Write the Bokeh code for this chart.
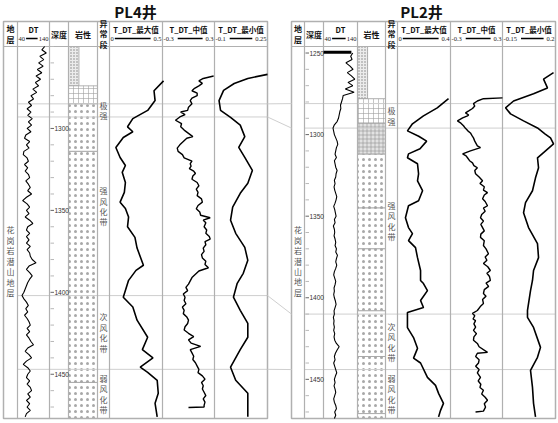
import numpy as np
from bokeh.plotting import figure
from bokeh.models import Range1d
from bokeh.core.properties import value
from bokeh.embed import file_html
from bokeh.resources import INLINE

# ------------------------------------------------------------------ data
well_titles = ["PL4井", "PL2井"]
pl4_names = ["地层", "DT", "深度", "岩性", "异常段", "T_DT_最大值", "T_DT_中值", "T_DT_最小值"]
pl2_names = ["地层", "深度", "DT", "岩性", "异常段", "T_DT_最大值", "T_DT_中值", "T_DT_最小值"]
stratum_name = "花岗岩潜山地层"
zone_names = ["极强", "强风化带", "次风化带", "弱风化带"]

pl4_depth_range = [1250, 1477]
pl2_depth_range = [1246, 1474]
pl4_major_ticks = [1300, 1350, 1400, 1450]
pl2_major_ticks = [1250, 1300, 1350, 1400, 1450]

# curve scales (min, max) per track: DT, 最大值, 中值, 最小值
pl4_scale_min = [40, 0, -0.3, -0.1]
pl4_scale_max = [140, 0.5, 0.3, 0.25]
pl2_scale_min = [40, 0, -0.3, -0.15]
pl2_scale_max = [140, 0.4, 0.3, 0.2]

# DT curves (2 m sampling)
pl4_dt_depth = np.arange(1250, 1477, 2)
pl4_dt = [125, 116, 130, 110, 122, 106, 120, 102, 116, 98,
          112, 96, 106, 88, 100, 82, 90, 74, 84, 70,
          82, 72, 86, 74, 84, 70, 82, 66, 62, 78,
          68, 76, 60, 58, 70, 74, 62, 72, 64, 74,
          78, 66, 74, 80, 72, 84, 68, 56, 70, 78,
          68, 76, 64, 78, 88, 72, 68, 78, 68, 76,
          68, 80, 70, 78, 80, 86, 98, 76, 68, 78,
          86, 78, 72, 68, 64, 60, 54, 60, 68, 74,
          66, 72, 62, 70, 76, 80, 70, 78, 68, 76,
          82, 90, 72, 64, 76, 84, 68, 58, 72, 80,
          72, 68, 78, 70, 80, 84, 72, 80, 68, 78,
          70, 80, 68, 64]
pl2_dt_depth = np.arange(1250, 1475, 2)
pl2_dt = [126, 120, 124, 106, 118, 127, 110, 122, 132, 112,
          126, 104, 130, 98, 96, 93, 90, 91, 88, 86,
          84, 80, 72, 68, 70, 72, 76, 80, 82, 78,
          76, 74, 78, 72, 74, 76, 80, 77, 76, 72,
          74, 71, 73, 76, 79, 77, 74, 70, 73, 75,
          77, 72, 74, 69, 72, 73, 71, 74, 76, 74,
          78, 76, 81, 78, 76, 79, 76, 72, 70, 73,
          76, 74, 71, 72, 70, 72, 75, 77, 74, 71,
          72, 69, 71, 70, 72, 70, 73, 71, 73, 78,
          86, 80, 75, 72, 74, 70, 73, 76, 79, 75,
          72, 74, 71, 74, 76, 73, 70, 72, 76, 78,
          73, 76, 72]
pl2_dt_spike_depth = [1249.5, 1249.5]
pl2_dt_spike = [40, 122]

# T_DT curves, PL4
pl4_max_depth = [1271, 1277, 1283, 1289, 1294, 1299, 1302, 1305.5, 1311.6, 1317.7,
                 1322.6, 1326.8, 1333, 1339, 1345, 1348.8, 1354, 1360, 1366.5, 1373,
                 1383.5, 1386.6, 1392.7, 1403, 1409, 1417, 1427.4, 1435, 1440, 1445.7,
                 1448.8, 1453.7, 1461.6, 1467.7, 1476]
pl4_max = [0.51, 0.42, 0.43, 0.36, 0.22, 0.17, 0.22, 0.13, 0.06, 0.10,
           0.15, 0.12, 0.15, 0.14, 0.10, 0.15, 0.18, 0.17, 0.24, 0.26,
           0.32, 0.25, 0.18, 0.13, 0.22, 0.26, 0.36, 0.31, 0.41, 0.29,
           0.36, 0.45, 0.46, 0.43, 0.45]
pl4_mid_depth = [1268, 1269.5, 1271, 1272.5, 1274, 1275.5, 1277, 1278.5, 1280, 1281.5,
                 1283, 1285, 1287, 1289, 1290, 1291.5, 1293, 1295, 1297, 1299,
                 1301, 1303, 1305, 1306, 1308, 1310, 1312, 1314, 1316, 1318,
                 1320, 1321.5, 1323, 1324.5, 1326, 1327.5, 1329, 1331, 1333, 1335,
                 1337, 1339, 1341, 1343, 1345, 1347, 1349, 1351, 1353, 1354.5,
                 1356, 1357.5, 1360, 1362, 1364, 1366, 1367.5, 1369, 1371, 1373,
                 1375, 1377, 1379, 1381, 1383, 1385, 1387, 1389, 1391, 1393,
                 1395, 1397, 1399, 1401, 1403, 1405, 1407, 1409, 1411, 1413,
                 1415, 1417, 1419, 1421, 1423, 1425, 1427, 1429, 1431, 1433,
                 1435, 1437, 1439, 1441, 1443, 1445, 1447, 1449, 1451, 1453,
                 1455, 1457, 1459, 1461, 1463, 1465, 1467, 1469, 1470, 1470.3]
pl4_mid = [0.29, 0.17, 0.12, 0.16, 0.12, 0.07, 0.04, 0.10, 0.10, 0.04,
           0.02, 0.04, 0.0, -0.01, -0.09, -0.04, -0.10, -0.15, -0.08, -0.09,
           -0.05, 0.0, 0.05, -0.02, -0.06, -0.10, -0.13, -0.12, -0.07, -0.05,
           0.04, 0.02, 0.03, 0.01, 0.06, 0.08, 0.05, 0.04, 0.10, 0.12,
           0.09, 0.11, 0.10, 0.15, 0.16, 0.11, 0.09, 0.13, 0.14, 0.25,
           0.17, 0.20, 0.18, 0.21, 0.20, 0.24, 0.25, 0.19, 0.20, 0.17,
           0.18, 0.15, 0.16, 0.20, 0.19, 0.23, 0.12, 0.08, 0.04, 0.02,
           0.0, -0.03, -0.01, -0.06, -0.04, -0.05, -0.03, -0.07, -0.05, -0.06,
           -0.02, 0.0, -0.01, -0.04, -0.05, 0.0, 0.06, 0.0, 0.03, 0.14,
           0.02, 0.04, 0.06, 0.05, 0.08, 0.10, 0.12, 0.11, 0.16, 0.19,
           0.15, 0.17, 0.16, 0.18, 0.20, 0.17, 0.19, 0.18, 0.18, 0.0]
pl4_min_depth = [1267, 1269.5, 1272.6, 1276.8, 1283, 1289, 1293.3, 1298, 1305, 1311.6,
                 1317.7, 1325.6, 1333.5, 1339.6, 1348, 1356, 1364, 1372.6, 1380.5, 1388.4,
                 1394.5, 1403, 1411, 1419, 1427.4, 1435, 1445.7, 1453.7, 1461.6, 1467.7, 1476]
pl4_min = [0.25, 0.12, 0.03, -0.04, -0.07, -0.06, 0.006, 0.07, 0.10, 0.06,
           0.10, 0.15, 0.12, 0.07, 0.02, 0.006, 0.04, 0.10, 0.12, 0.09,
           0.05, 0.025, 0.07, 0.12, 0.12, 0.07, 0.006, 0.04, 0.12, 0.12, 0.12]

# T_DT curves, PL2
pl2_max_depth = [1278, 1283.6, 1288.5, 1293.4, 1297.7, 1301, 1304, 1308.7, 1311.8, 1314.2,
                 1317.9, 1324, 1328.3, 1334.4, 1340.5, 1343.6, 1351, 1357, 1360.7, 1365,
                 1369.3, 1375.4, 1383.3, 1389.4, 1391.3, 1395.6, 1401.7, 1406, 1409, 1418.3,
                 1424.4, 1431, 1437, 1440, 1448.8, 1453.7, 1458.6, 1464.7, 1469, 1473]
pl2_max = [0.385, 0.30, 0.196, 0.113, 0.075, 0.16, 0.22, 0.17, 0.083, 0.075,
           0.151, 0.159, 0.151, 0.189, 0.159, 0.083, 0.06, 0.083, 0.113, 0.083,
           0.136, 0.151, 0.174, 0.174, 0.196, 0.226, 0.174, 0.196, 0.075, 0.075,
           0.121, 0.151, 0.121, 0.174, 0.226, 0.287, 0.31, 0.347, 0.325, 0.31]
pl2_mid_depth = [1277.5, 1278, 1279.4, 1281, 1282.5, 1284, 1285.5, 1286.7, 1288, 1288.5,
                 1289.8, 1291.6, 1293, 1294.6, 1296, 1297.7, 1299, 1300.8, 1302, 1304,
                 1306.9, 1308, 1310, 1311.8, 1313, 1314.2, 1316, 1317.3, 1319, 1320.3,
                 1322, 1324, 1326, 1328.3, 1330, 1332, 1334, 1335.6, 1337, 1339.3,
                 1341, 1343.6, 1345, 1347, 1349, 1351, 1353, 1355, 1357, 1359,
                 1361, 1363, 1365, 1368, 1370, 1373, 1375, 1377, 1379, 1381,
                 1383.3, 1385, 1387, 1389.4, 1391, 1393, 1395, 1397.4, 1399, 1401,
                 1403.5, 1405, 1407.8, 1409.6, 1411, 1413, 1414, 1416, 1418, 1420,
                 1422, 1424, 1426, 1428, 1430, 1433.5, 1434, 1436, 1438, 1440,
                 1442, 1444, 1446, 1448.8, 1451, 1453, 1455, 1456.7, 1459, 1461,
                 1462.8, 1465, 1467, 1469.5, 1470]
pl2_mid = [0.30, 0.08, 0.01, -0.035, -0.02, -0.046, -0.09, -0.127, -0.09, -0.104,
           -0.16, -0.22, -0.18, -0.15, -0.13, -0.10, -0.07, -0.05, -0.035, -0.02,
           0.01, 0.046, -0.07, -0.16, -0.12, -0.104, -0.08, -0.046, -0.03, 0.01,
           -0.02, -0.011, 0.03, 0.07, 0.04, 0.09, 0.08, 0.127, 0.09, 0.07,
           0.10, 0.127, 0.08, 0.10, 0.06, 0.046, 0.08, 0.05, 0.07, 0.09,
           0.05, 0.046, 0.09, 0.08, 0.11, 0.138, 0.10, 0.12, 0.08, 0.13,
           0.16, 0.12, 0.15, 0.16, 0.11, 0.14, 0.09, 0.08, 0.11, 0.07,
           0.08, 0.05, 0.01, -0.046, -0.02, -0.04, -0.011, -0.03, -0.01, -0.035,
           0.0, -0.03, -0.035, 0.01, 0.03, 0.127, 0.01, -0.01, 0.03, 0.023,
           -0.01, 0.03, 0.01, 0.046, 0.02, 0.05, 0.04, 0.08, 0.06, 0.10,
           0.127, 0.09, 0.104, 0.08, -0.011]
pl2_min_depth = [1262, 1266, 1271.4, 1275, 1279.4, 1283.6, 1287.3, 1291.6, 1295.9, 1299.5,
                 1302, 1305.7, 1311, 1314.2, 1320.3, 1326.5, 1334.4, 1341.7, 1347.9, 1357,
                 1366.8, 1375.4, 1383.3, 1389.4, 1395.6, 1407.8, 1412, 1418.2, 1430.4, 1436.5,
                 1444.5, 1454.9, 1464.7, 1473]
pl2_min = [0.187, 0.121, 0.147, 0.055, -0.077, -0.13, -0.097, -0.011, 0.081, 0.13,
           0.167, 0.187, 0.121, 0.081, 0.088, 0.068, 0.048, 0.002, -0.011, 0.022,
           0.081, 0.088, 0.055, 0.048, 0.035, 0.015, 0.015, 0.055, 0.101, 0.081,
           0.035, 0.048, 0.055, 0.068]

# lithology intervals
pl4_lith_top = [1250, 1274, 1285, 1314, 1455]
pl4_lith_bot = [1274, 1285, 1314, 1455, 1477]
pl4_lith_type = ["fine", "brick", "granite", "granite", "granite"]
pl2_lith_top = [1246, 1278, 1293, 1312, 1345, 1370, 1408, 1436, 1471]
pl2_lith_bot = [1278, 1293, 1312, 1345, 1370, 1408, 1436, 1471, 1474]
pl2_lith_type = ["fine", "brick", "brick_dense", "granite", "granite", "granite",
                 "granite", "granite", "granite"]

# anomaly zone boundaries (tops of 极强, 强风化带, 次风化带, 弱风化带)
pl4_zone_tops = [1285, 1293, 1402, 1447]
pl2_zone_tops = [1281, 1296, 1410, 1444]

# ------------------------------------------------------------------ layout
W, H = 558, 423


def X(xr):
    return float(xr)


def Y(yr):
    return float(yr)


CJK = value("Noto Sans CJK SC")
NUM = value("Liberation Serif")
SANS = value("Liberation Sans")
GRID = "#b0b0b0"

p = figure(width=W, height=H, x_range=Range1d(0, W), y_range=Range1d(H, 0),
           output_backend="svg", toolbar_location=None, min_border=0,
           x_axis_location=None, y_axis_location=None,
           background_fill_color="white", border_fill_color="white")
p.outline_line_color = None
p.grid.visible = False

xranges, yranges = {}, {}

LITH = {
    "fine": dict(fill="#ececec", hatch="dot", scale=3.0, hcolor="#808080", narrow=True),
    "brick": dict(fill="white", hatch="cross", scale=5.0, hcolor="#a0a0a0", narrow=False),
    "brick_dense": dict(fill="#e2e2e2", hatch="cross", scale=4.0, hcolor="#909090", narrow=False),
    "granite": dict(fill="white", hatch="dot", scale=6.0, hcolor="#a8a8a8", narrow=False),
}

HEAD_TOP, HEAD_BOT, BOTTOM = 21, 46, 418
VLH = 0.95  # line height of vertical (stacked) labels


def add_well(key, title, title_x, cols, names, drange, majors, smin, smax,
             curves, lith_top, lith_bot, lith_type, zone_tops):
    d0, d1 = drange
    ly0, ly1 = Y(HEAD_BOT), Y(BOTTOM)
    k = (d1 - d0) / (ly1 - ly0)
    yranges[key] = Range1d(start=d0 + (H - ly0) * k, end=d0 - ly0 * k)

    # title
    p.text(x=[X(title_x)], y=[Y(11)], text=[title], text_font=CJK, text_font_size="15px",
           text_font_style="bold", text_align="center", text_baseline="middle",
           text_color="#111111")

    # lithology
    li = names.index("岩性")
    lx0, lx1 = cols[li], cols[li + 1]
    for t, b, ty in zip(lith_top, lith_bot, lith_type):
        st = LITH[ty]
        right = lx0 + (lx1 - lx0) * 0.36 if st["narrow"] else lx1
        p.quad(left=[X(lx0)], right=[X(right)], top=[t], bottom=[b], y_range_name=key,
               fill_color=st["fill"], hatch_pattern=st["hatch"], hatch_scale=st["scale"],
               hatch_color=st["hcolor"], hatch_weight=0.6, line_color="#a0a0a0", line_width=0.8)

    # zone boundary lines
    p.segment(x0=[X(cols[1])] * len(zone_tops), x1=[X(cols[-1])] * len(zone_tops),
              y0=zone_tops, y1=zone_tops, y_range_name=key, line_color="#cfcfcf", line_width=1)

    # frame and separators
    p.quad(left=[X(cols[0])], right=[X(cols[-1])], top=[Y(HEAD_TOP)], bottom=[Y(BOTTOM)],
           fill_color=None, line_color=GRID, line_width=1.5)
    inner = [X(c) for c in cols[1:-1]]
    p.segment(x0=inner, x1=inner, y0=[Y(HEAD_TOP)] * len(inner), y1=[Y(BOTTOM)] * len(inner),
              line_color=GRID, line_width=1.2)
    p.segment(x0=[X(cols[0])], x1=[X(cols[-1])], y0=[Y(HEAD_BOT)], y1=[Y(HEAD_BOT)],
              line_color=GRID, line_width=1.2)

    # headers
    track_no = 0
    for i, nm in enumerate(names):
        x0, x1 = cols[i], cols[i + 1]
        cx = X((x0 + x1) / 2)
        if nm in ("地层", "异常段"):
            p.text(x=[cx], y=[Y(33.5)], text=["\n".join(nm)], text_font=CJK,
                   text_font_size="8px", text_font_style="bold", text_align="center",
                   text_baseline="middle", text_line_height=VLH, text_color="#111111")
        elif nm in ("深度", "岩性"):
            p.text(x=[cx], y=[Y(33.5)], text=[nm], text_font=CJK, text_font_size="8px",
                   text_font_style="bold", text_align="center", text_baseline="middle",
                   text_color="#111111")
        else:
            p.text(x=[cx], y=[Y(29)], text=[nm], text_font=CJK, text_font_size="7.5px",
                   text_font_style="bold", text_align="center", text_baseline="middle",
                   text_color="#111111")
            lo, hi = f"{smin[track_no]:g}", f"{smax[track_no]:g}"
            p.text(x=[X(x0 + 1)], y=[Y(38)], text=[lo], text_font=NUM, text_font_size="6.5px",
                   text_align="left", text_baseline="middle", text_color="#222222")
            p.text(x=[X(x1 - 1)], y=[Y(38)], text=[hi], text_font=NUM, text_font_size="6.5px",
                   text_align="right", text_baseline="middle", text_color="#222222")
            s0 = X(x0 + 2 + 3.3 * len(lo))
            s1 = X(x1 - 2 - 3.3 * len(hi))
            p.segment(x0=[s0], x1=[s1], y0=[Y(38)], y1=[Y(38)], line_color="black", line_width=1.4)
            # track range
            lx_a, lx_b = X(x0), X(x1)
            kk = (smax[track_no] - smin[track_no]) / (lx_b - lx_a)
            rname = f"{key}_t{track_no}"
            xranges[rname] = Range1d(start=smin[track_no] - lx_a * kk,
                                     end=smin[track_no] + (W - lx_a) * kk)
            for (dep, vals, lw) in curves[track_no]:
                p.line(x=list(vals), y=list(dep), x_range_name=rname, y_range_name=key,
                       line_color="black", line_width=lw)
            track_no += 1

    # depth ticks
    di = names.index("深度")
    dl = cols[di]
    minors = [d for d in range(int(np.ceil(d0 / 10.0) * 10), int(d1) + 1, 10) if d not in majors]
    p.segment(x0=[X(dl + 1)] * len(minors), x1=[X(dl + 4.5)] * len(minors), y0=minors, y1=minors,
              y_range_name=key, line_color="#b8b8b8", line_width=1)
    p.segment(x0=[X(dl + 1)] * len(majors), x1=[X(dl + 4.5)] * len(majors), y0=majors, y1=majors,
              y_range_name=key, line_color="#666666", line_width=1)
    p.text(x=[X(dl + 5)] * len(majors), y=majors, text=[str(m) for m in majors],
           y_range_name=key, text_font=SANS, text_font_size="6.5px", text_align="left",
           text_baseline="middle", text_color="#333333")

    # zone labels
    zi = names.index("异常段")
    zx = X((cols[zi] + cols[zi + 1]) / 2)
    bounds = list(zone_tops) + [d1]
    mids = [(bounds[j] + bounds[j + 1]) / 2 for j in range(len(zone_tops))]
    p.text(x=[zx] * len(mids), y=mids, text=["\n".join(z) for z in zone_names],
           y_range_name=key, text_font=CJK, text_font_size="8px", text_align="center",
           text_baseline="middle", text_line_height=VLH, text_color="#555555")

    # stratum label
    sx = X((cols[0] + cols[1]) / 2)
    p.text(x=[sx], y=[(zone_tops[0] + d1) / 2], text=["\n".join(stratum_name)],
           y_range_name=key, text_font=CJK, text_font_size="8px", text_align="center",
           text_baseline="middle", text_line_height=VLH, text_color="#555555")


add_well("pl4", well_titles[0], 135, [3, 17, 49, 68, 97, 109, 162, 214, 267], pl4_names,
         pl4_depth_range, pl4_major_ticks, pl4_scale_min, pl4_scale_max,
         [[(pl4_dt_depth, pl4_dt, 1.1)],
          [(pl4_max_depth, pl4_max, 1.6)],
          [(pl4_mid_depth, pl4_mid, 1.4)],
          [(pl4_min_depth, pl4_min, 1.6)]],
         pl4_lith_top, pl4_lith_bot, pl4_lith_type, pl4_zone_tops)

add_well("pl2", well_titles[1], 421, [291, 304, 323, 357, 385, 397, 450, 502, 555], pl2_names,
         pl2_depth_range, pl2_major_ticks, pl2_scale_min, pl2_scale_max,
         [[(pl2_dt_depth, pl2_dt, 1.1), (pl2_dt_spike_depth, pl2_dt_spike, 3)],
          [(pl2_max_depth, pl2_max, 1.6)],
          [(pl2_mid_depth, pl2_mid, 1.4)],
          [(pl2_min_depth, pl2_min, 1.6)]],
         pl2_lith_top, pl2_lith_bot, pl2_lith_type, pl2_zone_tops)


# correlation lines between the wells
def to_layout(d, drange):
    a, b = drange
    return Y(HEAD_BOT) + (d - a) / (b - a) * (Y(BOTTOM) - Y(HEAD_BOT))


p.segment(x0=[X(267)] * 4, x1=[X(291)] * 4,
          y0=[to_layout(d, pl4_depth_range) for d in pl4_zone_tops],
          y1=[to_layout(d, pl2_depth_range) for d in pl2_zone_tops],
          line_color="#cfcfcf", line_width=1)

p.extra_x_ranges = xranges
p.extra_y_ranges = yranges

open("out.html", "w").write(file_html(p, INLINE))
